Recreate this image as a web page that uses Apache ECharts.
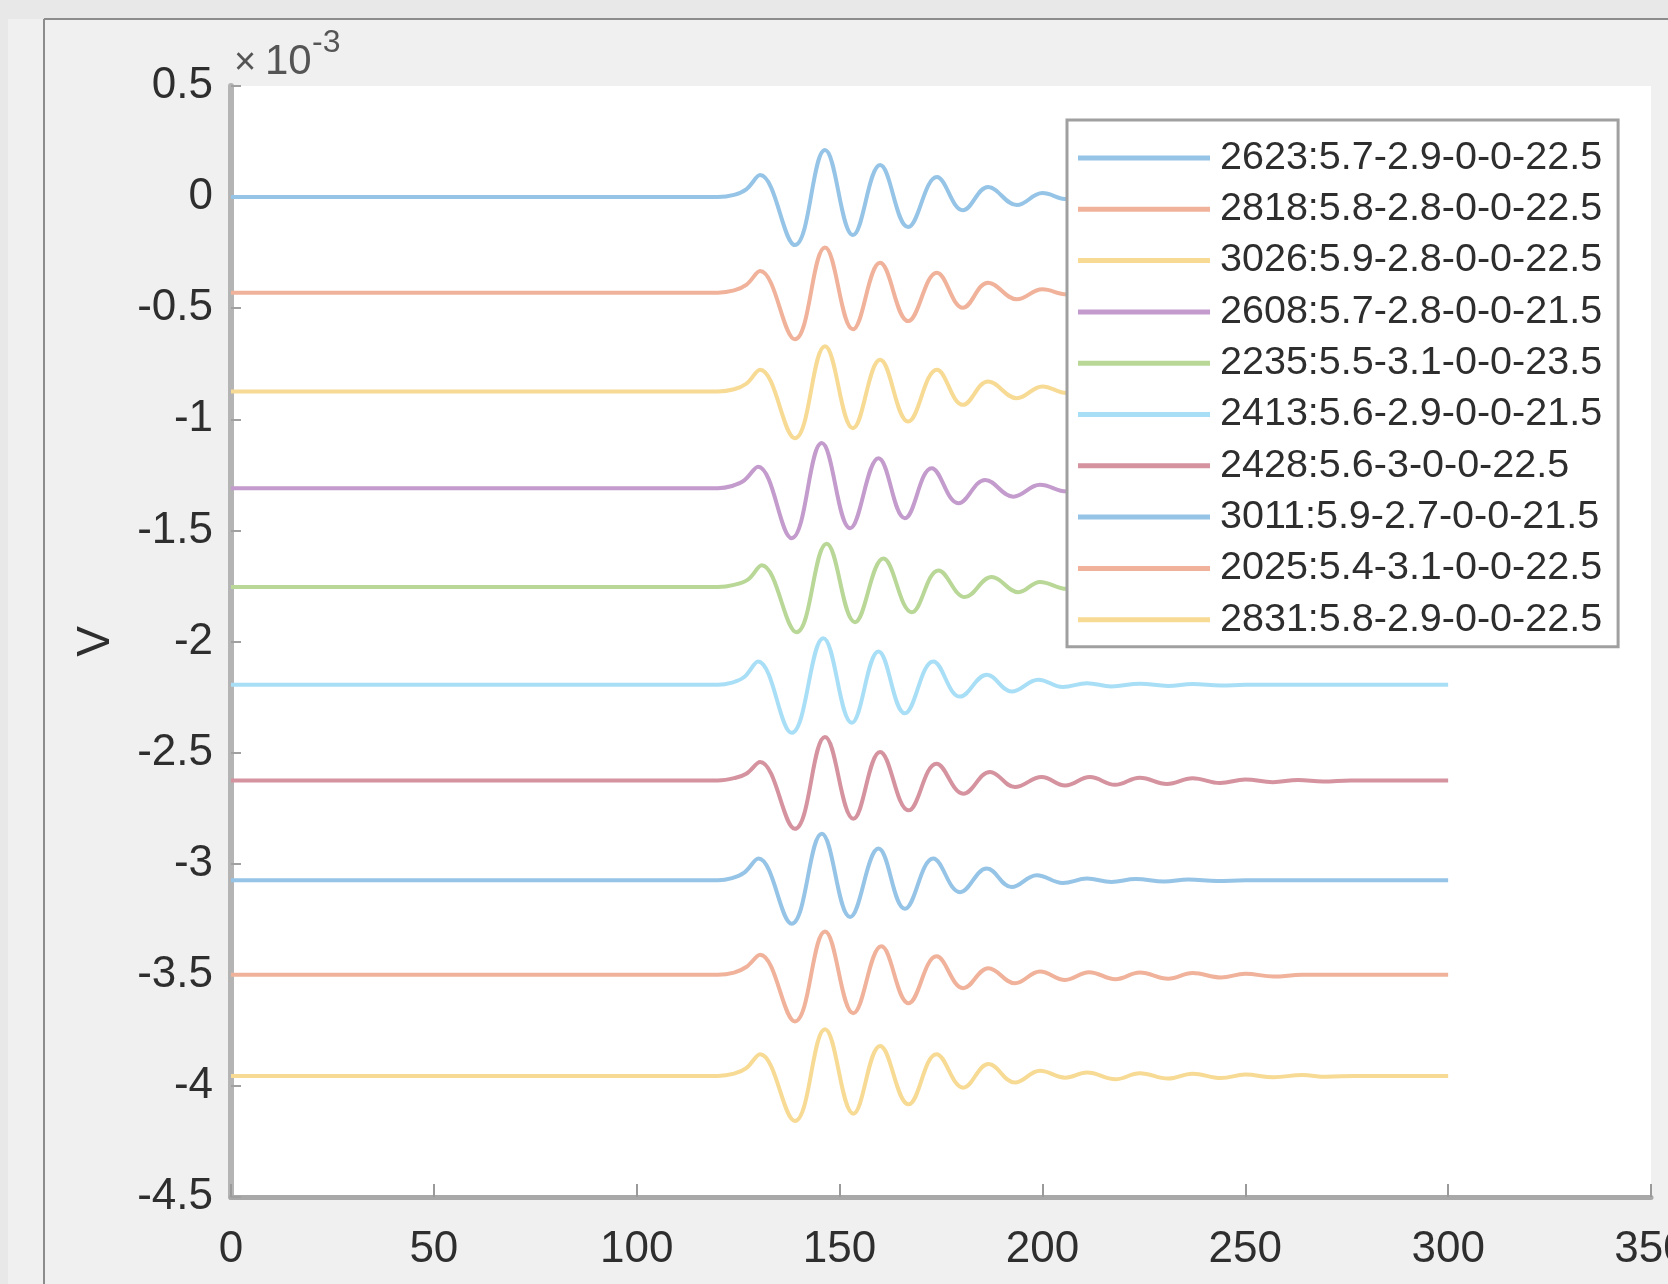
<!DOCTYPE html>
<html>
<head>
<meta charset="utf-8">
<script src="https://cdn.jsdelivr.net/npm/echarts@6/dist/echarts.min.js"></script>
<style>
  html, body { margin: 0; padding: 0; background: #f0f0f0; }
  #chart { width: 1668px; height: 1284px; }
</style>
</head>
<body>
<div id="chart"></div>
<script>
// ---- data (y values in units of 1e-3 V) ----
const seriesNames = [
  '2623:5.7-2.9-0-0-22.5', '2818:5.8-2.8-0-0-22.5', '3026:5.9-2.8-0-0-22.5',
  '2608:5.7-2.8-0-0-21.5', '2235:5.5-3.1-0-0-23.5', '2413:5.6-2.9-0-0-21.5',
  '2428:5.6-3-0-0-22.5', '3011:5.9-2.7-0-0-21.5', '2025:5.4-3.1-0-0-22.5',
  '2831:5.8-2.9-0-0-22.5'
];
const offsets = [0, -0.43, -0.875, -1.31, -1.755, -2.195, -2.625, -3.075, -3.5, -3.955];
const xTicks = [0, 50, 100, 150, 200, 250, 300, 350];
const yTicks = [-4.5, -4, -3.5, -3, -2.5, -2, -1.5, -1, -0.5, 0, 0.5];

const wave2623 = [[0,0],[120,0],[124,0.01],[127,0.035],[130.4,0.099],[139,-0.216],[146.4,0.212],[153.3,-0.171],[160,0.144],[166.9,-0.135],[174,0.09],[180.4,-0.059],[186.6,0.045],[193.7,-0.036],[200,0.018],[206,-0.009],[212,0.006],[218,-0.006],[225,0.004],[232,-0.003],[240,0],[300,0]];
const wave2818 = [[0,0],[120,0],[124,0.01],[127,0.035],[130.4,0.097],[139,-0.21],[146.4,0.203],[153.3,-0.165],[160,0.134],[166.9,-0.128],[174,0.09],[180.4,-0.068],[186.6,0.045],[193.7,-0.03],[200,0.015],[206,-0.008],[212,0.006],[218,-0.006],[225,0.004],[232,-0.003],[240,0],[300,0]];
const wave3026 = [[0,0],[120,0],[124,0.01],[127,0.035],[130.4,0.098],[139,-0.21],[146.4,0.204],[153.3,-0.165],[160,0.143],[166.9,-0.135],[174,0.098],[180.4,-0.06],[186.6,0.045],[193.7,-0.03],[200,0.023],[206,-0.007],[212,0.006],[218,-0.006],[225,0.004],[232,-0.003],[240,0],[300,0]];
const wave2608 = [[0,0],[120,0],[123.5,0.01],[126.5,0.035],[129.9,0.097],[138.2,-0.225],[145.6,0.203],[152.6,-0.18],[159.6,0.135],[166.1,-0.135],[172.7,0.09],[179.3,-0.068],[185.9,0.037],[192.8,-0.038],[199.4,0.015],[206,-0.015],[212,0.006],[218,-0.006],[225,0.004],[232,-0.003],[240,0],[300,0]];
const wave2235 = [[0,0],[120,0],[124,0.01],[127.5,0.035],[130.8,0.098],[139.4,-0.203],[146.8,0.195],[153.8,-0.158],[160.8,0.128],[167.8,-0.113],[174.4,0.075],[180.9,-0.045],[187.5,0.045],[194.1,-0.023],[199.4,0.023],[206,-0.008],[212,0.006],[218,-0.006],[225,0.004],[232,-0.003],[240,0],[300,0]];
const wave2413 = [[0,0],[120,0],[123.5,0.01],[126.5,0.035],[129.9,0.105],[138.2,-0.216],[146,0.21],[153,-0.171],[159.6,0.15],[166.1,-0.128],[173.1,0.105],[179.7,-0.053],[186.3,0.045],[192.4,-0.03],[199,0.023],[205,-0.01],[211,0.007],[217,-0.007],[224,0.005],[231,-0.005],[237,0.004],[244,-0.003],[250,0],[300,0]];
const wave2428 = [[0,0],[120,0],[124,0.01],[127,0.03],[130.4,0.083],[139,-0.218],[146.4,0.195],[153.4,-0.173],[160,0.128],[167,-0.135],[173.9,0.075],[180.5,-0.06],[187.1,0.038],[193.2,-0.03],[199.8,0.015],[205.6,-0.023],[211.7,0.015],[217.9,-0.02],[224,0.012],[230.7,-0.016],[237,0.01],[243.8,-0.012],[250,0.004],[256.8,-0.008],[263,0.002],[269.2,-0.005],[276,0],[300,0]];
const wave3011 = [[0,0],[120,0],[123.5,0.01],[126.5,0.035],[130,0.098],[138.2,-0.195],[145.6,0.21],[152.6,-0.165],[159.6,0.143],[166.1,-0.128],[173.1,0.098],[179.7,-0.053],[186.3,0.053],[192.4,-0.03],[198.6,0.023],[205,-0.012],[211,0.008],[217,-0.007],[223,0.006],[230,-0.005],[236,0.004],[243,-0.003],[250,0],[300,0]];
const wave2025 = [[0,0],[120,0],[124,0.01],[127,0.035],[130.4,0.09],[139,-0.21],[146.4,0.195],[153.4,-0.173],[160.3,0.128],[167,-0.128],[173.9,0.083],[180.5,-0.06],[186.7,0.03],[193.2,-0.038],[199.4,0.015],[205.6,-0.023],[211.5,0.012],[218,-0.02],[224,0.01],[231,-0.018],[237,0.008],[244,-0.012],[250,0.005],[257,-0.008],[264,0],[300,0]];
const wave2831 = [[0,0],[120,0],[124,0.01],[127,0.035],[130.4,0.098],[139,-0.203],[146.4,0.21],[153.4,-0.17],[160,0.135],[167,-0.128],[173.9,0.098],[180.5,-0.053],[186.7,0.053],[193.2,-0.03],[199.4,0.023],[205.6,-0.008],[211,0.015],[218,-0.015],[224,0.012],[231,-0.012],[237,0.01],[244,-0.01],[250,0.006],[257,-0.006],[264,0.004],[270,-0.004],[277,0],[300,0]];

const waves = [wave2623, wave2818, wave3026, wave2608, wave2235, wave2413, wave2428, wave3011, wave2025, wave2831];

// ---- styles ----
const colors = ['#95c4e7', '#f0b29a', '#f7da94', '#c39bcc', '#b9d797', '#a9dff6', '#d5929f', '#95c4e7', '#f0b29a', '#f7da94'];
const FONT = '"Liberation Sans", Arial, Helvetica, sans-serif';
const TEXT = '#2e2e2e';

const series = waves.map((w, i) => ({
  name: seriesNames[i],
  type: 'line',
  data: w.map(p => [p[0], p[1] + offsets[i]]),
  showSymbol: false,
  symbol: 'none',
  smooth: 0.4,
  lineStyle: { color: colors[i], width: 4 },
  itemStyle: { color: colors[i] },
  emphasis: { disabled: true },
  z: 2 + i * 0.01
}));

const chart = echarts.init(document.getElementById('chart'), null, { renderer: 'canvas' });
chart.setOption({
  animation: false,
  backgroundColor: '#f0f0f0',
  color: colors,
  textStyle: { fontFamily: FONT },
  graphic: [
    { type: 'rect', shape: { x: 0, y: 0, width: 1668, height: 19 }, style: { fill: '#e8e8e8' }, silent: true },
    { type: 'rect', shape: { x: 0, y: 0, width: 8, height: 1284 }, style: { fill: '#e8e8e8' }, silent: true },
    { type: 'line', shape: { x1: 44, y1: 19, x2: 1668, y2: 19 }, style: { stroke: '#8c8c8c', lineWidth: 2 }, silent: true },
    { type: 'line', shape: { x1: 44, y1: 19, x2: 44, y2: 1284 }, style: { stroke: '#8c8c8c', lineWidth: 2 }, silent: true },
    { type: 'text', x: 234, y: 64, style: { text: '\u00d7', fontSize: 38, fontFamily: FONT, fill: '#555', verticalAlign: 'middle' }, silent: true },
    { type: 'text', x: 265, y: 62, style: { text: '10', fontSize: 42, fontFamily: FONT, fill: '#555', verticalAlign: 'middle' }, silent: true },
    { type: 'text', x: 312, y: 43, style: { text: '-3', fontSize: 32, fontFamily: FONT, fill: '#555', verticalAlign: 'middle' }, silent: true }
  ],
  grid: {
    left: 231, right: 17, top: 86, bottom: 87,
    show: true, backgroundColor: '#ffffff', borderWidth: 0,
    containLabel: false, outerBoundsMode: 'none'
  },
  legend: {
    orient: 'vertical',
    left: 1067, top: 120,
    padding: [18, 16, 7, 11],
    backgroundColor: '#ffffff',
    borderColor: '#a0a0a0', borderWidth: 3,
    itemWidth: 132, itemHeight: 5, itemGap: 11.3,
    icon: 'rect',
    selectedMode: false,
    data: seriesNames,
    textStyle: { fontSize: 39.5, color: TEXT, fontFamily: FONT, lineHeight: 40, padding: [0, 0, 0, 5] }
  },
  xAxis: {
    type: 'value',
    min: xTicks[0], max: xTicks[xTicks.length - 1], interval: xTicks[1] - xTicks[0],
    axisLine: { show: true, onZero: false, lineStyle: { color: '#a8a8a8', width: 5 } },
    axisTick: { show: true, inside: true, length: 13, lineStyle: { color: '#9a9a9a', width: 2 } },
    axisLabel: { fontSize: 44, color: TEXT, margin: 31, fontFamily: FONT },
    splitLine: { show: false }
  },
  yAxis: {
    type: 'value',
    min: yTicks[0], max: yTicks[yTicks.length - 1], interval: yTicks[1] - yTicks[0],
    name: 'V', nameLocation: 'middle', nameGap: 112,
    nameTextStyle: { fontSize: 46, color: TEXT, fontFamily: FONT },
    axisLine: { show: true, onZero: false, lineStyle: { color: '#b4b4b4', width: 6 } },
    axisTick: { show: true, inside: true, length: 10, lineStyle: { color: '#a0a0a0', width: 2 } },
    axisLabel: { fontSize: 44, color: TEXT, margin: 18, fontFamily: FONT },
    splitLine: { show: false }
  },
  series: series
});
</script>
</body>
</html>
